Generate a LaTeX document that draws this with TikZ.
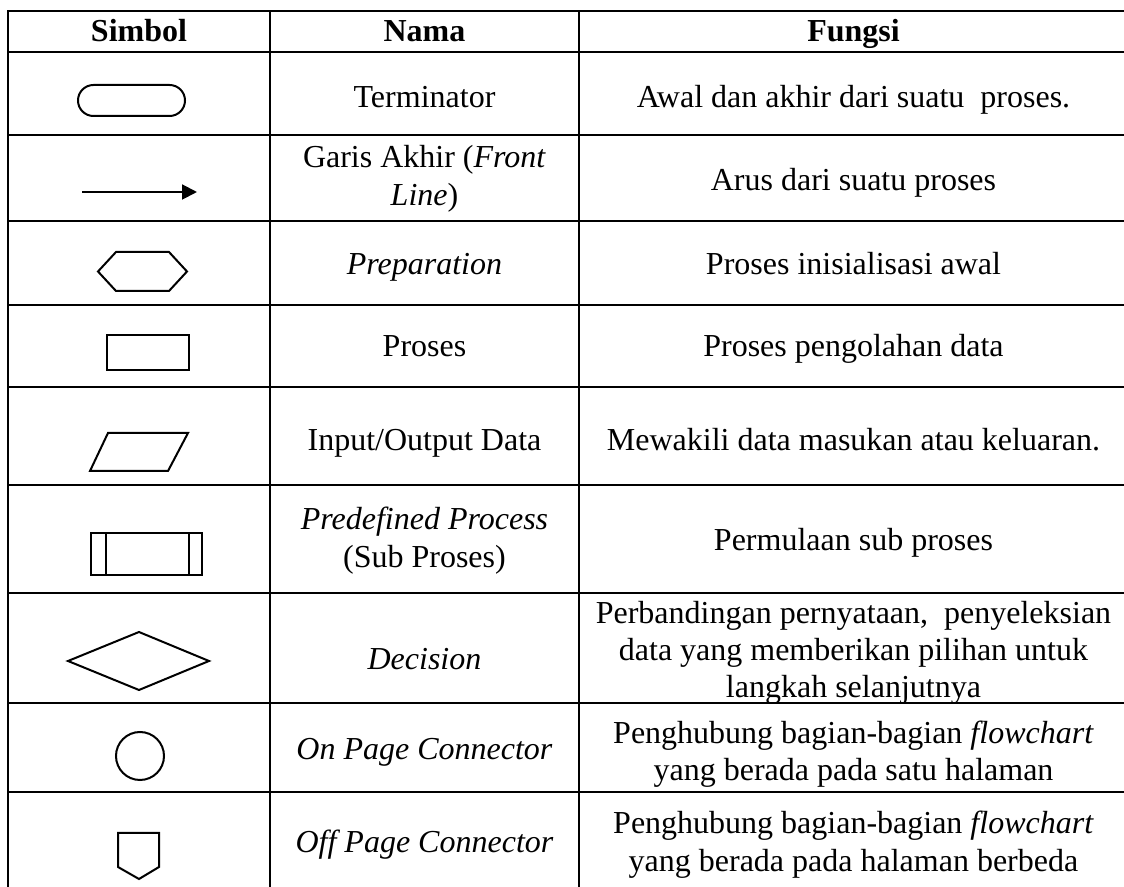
\documentclass[tikz,border=0pt]{standalone}
\usepackage{fontspec}
\setmainfont{Liberation Serif}
\usetikzlibrary{arrows.meta}

\tikzset{
  garis/.style={line width=1.1pt},
  simbol/.style={line width=0.75pt},
  teks/.style={align=center, inner sep=0pt, font=\fontsize{12}{14}\selectfont,
    execute at begin node=\strut, execute at end node=\strut},
  judul/.style={teks, font=\fontsize{12}{14}\selectfont\bfseries},
}

\begin{document}
\begin{tikzpicture}[x=0.375pt, y=-0.375pt]
        \useasboundingbox (0,0) rectangle (1124,887);
        \clip (0,0) rectangle (1124,887);

        % Garis tabel
        \draw[garis] (8,11) rectangle (1128,892); % Bingkai
        \foreach \y in {52,135,221,305,387,485,593,703,792}
          \draw[garis] (8,\y) -- (1128,\y); % Baris
        \draw[garis] (270,11) -- (270,892); % Kolom Simbol | Nama
        \draw[garis] (579,11) -- (579,892); % Kolom Nama | Fungsi

        % Judul kolom
        \node[judul] (hSimbol) at (139,34.5) {Simbol};
        \node[judul] (hNama) at (424.5,34.5) {Nama};
        \node[judul] (hFungsi) at (853.5,34.5) {Fungsi};

        % Simbol
        \draw[simbol, rounded corners=5.8pt] (78,85) rectangle (185,116); % Terminator
        \draw[simbol, -{Triangle[length=5.6pt, width=5.6pt]}] (82,192) -- (197,192); % Garis alir
        \draw[simbol] (98,271.5) -- (116,252) -- (169,252) -- (187,271.5)
          -- (169,291) -- (116,291) -- cycle; % Preparation
        \draw[simbol] (107,335) rectangle (189,370); % Proses
        \draw[simbol] (108,433) -- (188,433) -- (168,471) -- (90,471) -- cycle; % Input/Output
        \draw[simbol] (91,533) rectangle (202,575); % Predefined process
        \draw[simbol] (106,533) -- (106,575);
        \draw[simbol] (189,533) -- (189,575);
        \draw[simbol] (68,661) -- (139,632) -- (209,661) -- (139,690) -- cycle; % Decision
        \draw[simbol] (140,756) circle (9pt); % On page connector
        \draw[simbol] (118,833) -- (159,833) -- (159,867) -- (139,879)
          -- (118,867) -- cycle; % Off page connector

        % Kolom Nama
        \node[teks] (nama1) at (424.5,100) {Terminator};
        \node[teks] (nama2) at (424.5,181) {Garis Akhir (\textit{Front}\\\textit{Line})};
        \node[teks] (nama3) at (424.5,267) {\textit{Preparation}};
        \node[teks] (nama4) at (424.5,349) {Proses};
        \node[teks] (nama5) at (424.5,443) {Input/Output Data};
        \node[teks] (nama6) at (424.5,543) {\textit{Predefined Process}\\(Sub Proses)};
        \node[teks] (nama7) at (424.5,662) {\textit{Decision}};
        \node[teks] (nama8) at (424.5,752.5) {\textit{On Page Connector}};
        \node[teks] (nama9) at (424.5,845) {\textit{Off Page Connector}};

        % Kolom Fungsi
        \node[teks] (fungsi1) at (853.5,100) {Awal dan akhir dari suatu\ \ proses.};
        \node[teks] (fungsi2) at (853.5,183) {Arus dari suatu proses};
        \node[teks] (fungsi3) at (853.5,267) {Proses inisialisasi awal};
        \node[teks] (fungsi4) at (853.5,349) {Proses pengolahan data};
        \node[teks] (fungsi5) at (853.5,443) {Mewakili data masukan atau keluaran.};
        \node[teks] (fungsi6) at (853.5,543) {Permulaan sub proses};
        \node[teks] (fungsi7) at (853.5,655) {Perbandingan pernyataan,\ \ penyeleksian\\data yang memberikan pilihan untuk\\langkah selanjutnya};
        \node[teks] (fungsi8) at (853.5,756.5) {Penghubung bagian-bagian \textit{flowchart}\\yang berada pada satu halaman};
        \node[teks] (fungsi9) at (853.5,847) {Penghubung bagian-bagian \textit{flowchart}\\yang berada pada halaman berbeda};
\end{tikzpicture}
\end{document}
